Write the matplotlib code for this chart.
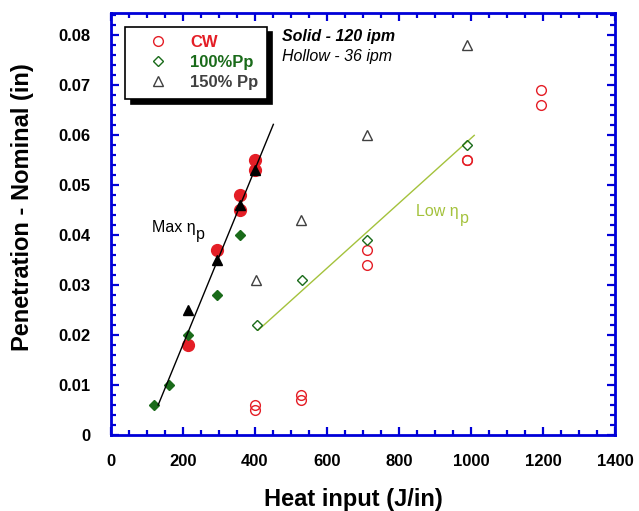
import matplotlib
matplotlib.use("Agg")
import matplotlib.pyplot as plt
from matplotlib.lines import Line2D
from matplotlib.ticker import MultipleLocator

plt.rcParams['font.family'] = ['Liberation Sans', 'DejaVu Sans']

# ---- data ----
cw_solid_x = [215, 295, 358, 358, 400, 400]
cw_solid_y = [0.018, 0.037, 0.045, 0.048, 0.053, 0.055]
p100_solid_x = [120, 160, 215, 295, 358]
p100_solid_y = [0.006, 0.010, 0.020, 0.028, 0.040]
p150_solid_x = [215, 295, 358, 400]
p150_solid_y = [0.025, 0.035, 0.046, 0.053]

cw_hollow_x = [400, 400, 527, 527, 712, 712, 990, 990, 1195, 1195]
cw_hollow_y = [0.006, 0.005, 0.008, 0.007, 0.037, 0.034, 0.055, 0.055, 0.069, 0.066]
p100_hollow_x = [405, 530, 712, 990]
p100_hollow_y = [0.022, 0.031, 0.039, 0.058]
p150_hollow_x = [403, 527, 712, 990]
p150_hollow_y = [0.031, 0.043, 0.060, 0.078]

max_fit_x = [131, 451]
max_fit_y = [0.006, 0.0622]
low_fit_x = [409, 1009]
low_fit_y = [0.021, 0.060]

legend_labels = ['CW', '100%Pp', '150% Pp']

RED = '#e41e26'
GREEN = '#1a6b1a'
GRAY = '#404040'
BLUE = '#0000d8'
LOWC = '#a4c23c'

fig = plt.figure(figsize=(6.39, 5.11), dpi=100)
ax = fig.add_axes([111/639, 1-435/511, 504/639, 422/511])

ax.plot(cw_solid_x, cw_solid_y, 'o', color=RED, ms=8.5, mec=RED, zorder=3)
ax.plot(p100_solid_x, p100_solid_y, 'D', color=GREEN, ms=5.5, mec=GREEN, zorder=3)
ax.plot(max_fit_x, max_fit_y, '-', color='black', lw=1.0, zorder=4)
ax.plot(p150_solid_x, p150_solid_y, '^', color='black', ms=7.5, zorder=5)

ax.plot(low_fit_x, low_fit_y, '-', color=LOWC, lw=1.0, zorder=2)
ax.plot(cw_hollow_x, cw_hollow_y, 'o', mfc='none', mec=RED, ms=7, mew=1.0, zorder=3)
ax.plot(p100_hollow_x, p100_hollow_y, 'D', mfc='none', mec=GREEN, ms=5, mew=1.0, zorder=3)
ax.plot(p150_hollow_x, p150_hollow_y, '^', mfc='none', mec=GRAY, ms=7, mew=1.0, zorder=3)

ax.set_xlim(0, 1400)
ax.set_ylim(0, 0.0845)
ax.xaxis.set_major_locator(MultipleLocator(200))
ax.xaxis.set_minor_locator(MultipleLocator(50))
ax.yaxis.set_minor_locator(MultipleLocator(0.002))
ax.set_yticks([0, 0.01, 0.02, 0.03, 0.04, 0.05, 0.06, 0.07, 0.08])
ax.set_yticklabels(['0', '0.01', '0.02', '0.03', '0.04', '0.05', '0.06', '0.07', '0.08'])

for s in ax.spines.values():
    s.set_color(BLUE)
    s.set_linewidth(2.0)
ax.tick_params(which='both', direction='in', top=True, right=True, color=BLUE, width=1.6)
ax.tick_params(which='major', length=6)
ax.tick_params(which='minor', length=3.5)
ax.tick_params(axis='y', which='major', pad=15)
ax.tick_params(axis='x', which='major', pad=14)
for lab in ax.get_xticklabels() + ax.get_yticklabels():
    lab.set_fontweight('bold')
    lab.set_fontsize(12)

ax.set_xlabel('Heat input (J/in)', fontsize=17, fontweight='bold')
ax.xaxis.set_label_coords(0.48, -0.125)
ax.set_ylabel('Penetration - Nominal (in)', fontsize=17, fontweight='bold')
ax.yaxis.set_label_coords(-0.152, 0.54)

handles = [
    Line2D([], [], ls='none', marker='o', mfc='none', mec=RED, ms=7, mew=1.0),
    Line2D([], [], ls='none', marker='D', mfc='none', mec=GREEN, ms=5, mew=1.0),
    Line2D([], [], ls='none', marker='^', mfc='none', mec=GRAY, ms=7, mew=1.0),
]
leg = ax.legend(handles, legend_labels, loc='upper left', bbox_to_anchor=(0.028, 0.967),
                frameon=True, fancybox=False, edgecolor='black', framealpha=1,
                shadow={'color': 'black', 'alpha': 1, 'ox': 4, 'oy': -4},
                prop={'weight': 'bold', 'size': 12}, labelspacing=0.3,
                handletextpad=0.4, borderpad=0.5, handlelength=3.0,
                labelcolor=[RED, GREEN, GRAY], borderaxespad=0)
leg.get_frame().set_linewidth(1.2)

ax.text(475, 0.0798, 'Solid - 120 ipm', fontsize=11.5, fontweight='bold', style='italic',
        va='center', ha='left')
ax.text(475, 0.0758, 'Hollow - 36 ipm', fontsize=11.5, style='italic',
        va='center', ha='left')

t1 = ax.text(113, 0.0415, 'Max η', fontsize=11.5, color='black', va='center', ha='left')
ax.annotate('p', xy=(1, 0), xycoords=t1, xytext=(0.5, -2.7), textcoords='offset points',
            fontsize=11.5, color='black', va='baseline', ha='left')
t2 = ax.text(848, 0.0448, 'Low η', fontsize=11.5, color=LOWC, va='center', ha='left')
ax.annotate('p', xy=(1, 0), xycoords=t2, xytext=(0.5, -2.7), textcoords='offset points',
            fontsize=11.5, color=LOWC, va='baseline', ha='left')

fig.savefig('out.png', dpi=100)
